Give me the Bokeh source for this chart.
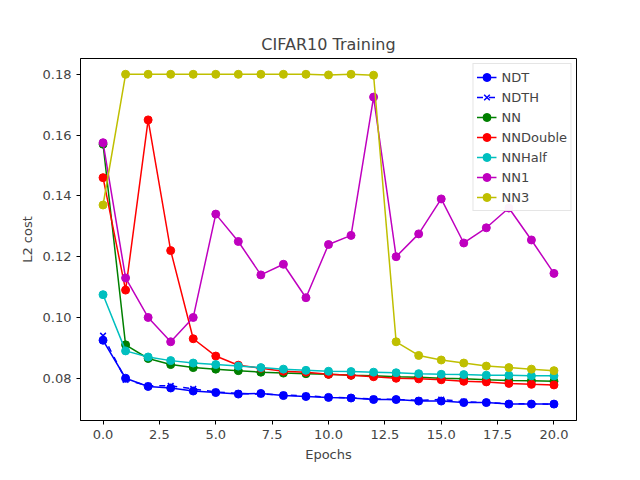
from bokeh.plotting import figure
from bokeh.models import Range1d, FixedTicker, Legend, CustomJSTickFormatter
from bokeh.embed import file_html
from bokeh.resources import INLINE

epochs = list(range(21))
ndt = [0.0925, 0.080, 0.0773, 0.0768, 0.0758, 0.0753, 0.0748, 0.075, 0.0743, 0.074, 0.0737,
       0.0735, 0.073, 0.073, 0.0725, 0.0725, 0.072, 0.072, 0.0715, 0.0715, 0.0715]
ndth = [0.094, 0.0795, 0.0775, 0.0775, 0.0765, 0.0755, 0.075, 0.0748, 0.0745, 0.0742, 0.0738,
        0.0735, 0.0732, 0.073, 0.0727, 0.073, 0.0723, 0.072, 0.0716, 0.0716, 0.0714]
nn = [0.157, 0.091, 0.0865, 0.0845, 0.0835, 0.083, 0.0825, 0.082, 0.0817, 0.0815, 0.0813,
      0.081, 0.0808, 0.0805, 0.0803, 0.080, 0.0798, 0.0795, 0.0793, 0.0792, 0.079]
nndouble = [0.146, 0.109, 0.165, 0.122, 0.093, 0.0873, 0.0843, 0.0833, 0.0823, 0.082, 0.0813,
            0.081, 0.0805, 0.080, 0.0798, 0.0795, 0.079, 0.0788, 0.0783, 0.078, 0.0778]
nnhalf = [0.1075, 0.089, 0.087, 0.0858, 0.085, 0.0845, 0.084, 0.0835, 0.083, 0.0826, 0.0823,
          0.0822, 0.082, 0.0818, 0.0815, 0.0813, 0.0812, 0.081, 0.081, 0.0808, 0.0808]
nn1 = [0.1575, 0.113, 0.100, 0.092, 0.100, 0.134, 0.125, 0.114, 0.1175, 0.1065, 0.124,
       0.127, 0.1725, 0.120, 0.1275, 0.139, 0.1245, 0.1295, 0.136, 0.1255, 0.1145]
nn3 = [0.137, 0.18, 0.18, 0.18, 0.18, 0.18, 0.18, 0.18, 0.18, 0.18, 0.1798,
       0.18, 0.1797, 0.092, 0.0875, 0.086, 0.085, 0.084, 0.0835, 0.083, 0.0825]

p = figure(width=624, height=464, output_backend="svg", toolbar_location=None,
           title="CIFAR10 Training", x_range=Range1d(-1, 21), y_range=Range1d(0.0661, 0.1852),
           min_border_left=80, min_border_right=48, min_border_top=58, min_border_bottom=37)
p.title.align = "center"
p.title.text_font = "DejaVu Sans"
p.title.text_font_size = "16px"
p.title.text_font_style = "normal"
p.xaxis.axis_label = "Epochs"
p.yaxis.axis_label = "L2 cost"
for ax in (p.xaxis, p.yaxis):
    ax.axis_label_text_font = "DejaVu Sans"
    ax.axis_label_text_font_style = "normal"
    ax.axis_label_text_font_size = "13px"
    ax.major_label_text_font = "DejaVu Sans"
    ax.major_label_text_font_size = "13px"
    ax.minor_tick_line_color = None
    ax.major_tick_out = 4
    ax.major_tick_in = 0
p.xaxis.ticker = FixedTicker(ticks=[0, 2.5, 5, 7.5, 10, 12.5, 15, 17.5, 20])
p.yaxis.ticker = FixedTicker(ticks=[0.08, 0.10, 0.12, 0.14, 0.16, 0.18])
p.xaxis.formatter = CustomJSTickFormatter(code="return tick.toFixed(1);")
p.yaxis.formatter = CustomJSTickFormatter(code="return tick.toFixed(2);")
p.grid.visible = False
p.outline_line_color = "black"

items = []
series = [("NDT", ndt, "blue", "solid"), ("NDTH", ndth, "blue", "dashed"),
          ("NN", nn, "green", "solid"), ("NNDouble", nndouble, "red", "solid"),
          ("NNHalf", nnhalf, "#00bfbf", "solid"), ("NN1", nn1, "#bf00bf", "solid"),
          ("NN3", nn3, "#bfbf00", "solid")]
for name, ys, c, dash in series:
    r1 = p.line(epochs, ys, color=c, line_width=1.5, line_dash=dash)
    if dash == "dashed":
        r2 = p.scatter(epochs, ys, marker="x", color=c, size=8, line_width=1.5)
    else:
        r2 = p.scatter(epochs, ys, marker="circle", color=c, size=8)
    items.append((name, [r1, r2]))

legend = Legend(items=items, location="top_right", label_text_font="DejaVu Sans",
                label_text_font_size="13px", spacing=0, padding=3, glyph_height=20,
                label_height=20, border_line_color="#cccccc", margin=5)
p.add_layout(legend)

open("out.html", "w").write(file_html(p, INLINE))
